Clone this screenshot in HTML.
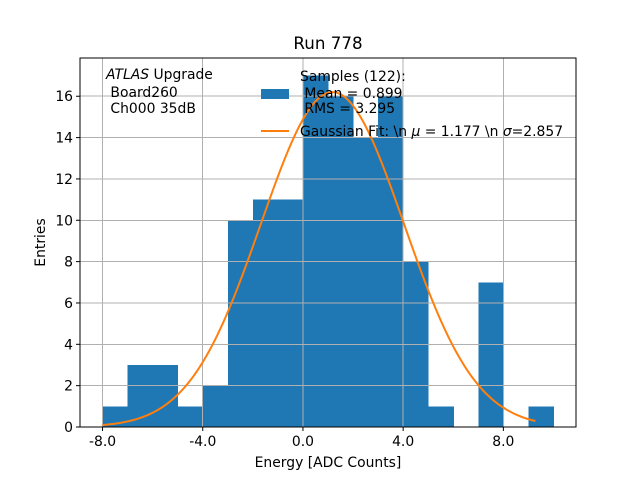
<!DOCTYPE html>
<html><head><meta charset="utf-8"><style>body{margin:0;background:#fff}svg{display:block;font-family:"DejaVu Sans","Liberation Sans",sans-serif}</style></head>
<body>
<svg id="chart" width="640" height="480" viewBox="0 0 640 480">
<rect width="640" height="480" fill="#fff"/>
<g id="bars" shape-rendering="crispEdges"></g><g id="grid" shape-rendering="crispEdges"></g><g id="fit"></g><g id="axes"></g>
<text x="328" y="49" text-anchor="middle" font-size="16.7">Run 778</text>
<text x="328" y="467" text-anchor="middle" font-size="13.9">Energy [ADC Counts]</text>
<text transform="translate(45,242.5) rotate(-90)" text-anchor="middle" font-size="13.9">Entries</text>
<g font-size="13.9">
<text x="106" y="79"><tspan font-style="italic">ATLAS</tspan> Upgrade</text>
<text x="106" y="97" xml:space="preserve"> Board260</text>
<text x="106" y="113" xml:space="preserve"> Ch000 35dB</text>
</g>
<g font-size="13.9">
<rect x="261" y="89" width="28" height="10" fill="#1f77b4"/>
<text x="300" y="81">Samples (122):</text>
<text x="300" y="98" xml:space="preserve"> Mean = 0.899</text>
<text x="300" y="113" xml:space="preserve"> RMS = 3.295</text>
<line x1="261" y1="131" x2="289" y2="131" stroke="#ff7f0e" stroke-width="2"/>
<text x="300" y="136">Gaussian Fit: \n <tspan font-style="italic">μ</tspan> = 1.177 \n <tspan font-style="italic">σ</tspan>=2.857</text>
</g>
</svg>
<script>
const binEdges = [-8,-7,-6,-5,-4,-3,-2,-1,0,1,2,3,4,5,6,7,8,9,10];
const counts = [1,3,3,1,2,10,11,11,17,16,14,16,8,1,0,7,0,1];
const fitMu = 1.177, fitSigma = 2.857, fitAmp = 16.2, fitStart = -8, fitEnd = 9.28;
const xTicks = [-8,-4,0,4,8];
const xTickLabels = ["-8.0","-4.0","0.0","4.0","8.0"];
const yTicks = [0,2,4,6,8,10,12,14,16];
const L=80,R=576,T=58,B=427, xmin=-8.9, xmax=10.9, ymin=0, ymax=17.85;
const sx=v=>L+(v-xmin)/(xmax-xmin)*(R-L);
const sy=v=>B-(v-ymin)/(ymax-ymin)*(B-T);
const NS="http://www.w3.org/2000/svg";
function mk(tag,attrs,parent){const e=document.createElementNS(NS,tag);for(const k in attrs)e.setAttribute(k,attrs[k]);parent.appendChild(e);return e;}
const grid=document.getElementById('grid'),bars=document.getElementById('bars'),fit=document.getElementById('fit'),axes=document.getElementById('axes');
xTicks.forEach((v,i)=>{
 const g=mk('line',{x1:sx(v),x2:sx(v),y1:T,y2:B,stroke:'#b0b0b0','stroke-width':1},grid);
 
 
 mk('line',{x1:sx(v),x2:sx(v),y1:B,y2:B+4,stroke:'#000'},axes);
 const t=mk('text',{x:sx(v),y:446,'text-anchor':'middle','font-size':13.9},axes);
 t.textContent=xTickLabels[i];
 
 
});
yTicks.forEach(v=>{
 const g=mk('line',{x1:L,x2:R,y1:sy(v),y2:sy(v),stroke:'#b0b0b0','stroke-width':1},grid);
 
 
 mk('line',{x1:L-4,x2:L,y1:sy(v),y2:sy(v),stroke:'#000'},axes);
 const t=mk('text',{x:L-7,y:sy(v)+5,'text-anchor':'end','font-size':13.9},axes);
 t.textContent=String(v);
 
 
});
counts.forEach((c,i)=>{
 if(c<=0)return;
 const x0=sx(binEdges[i]),x1=sx(binEdges[i+1]);
 const r=mk('rect',{x:x0,y:sy(c),width:x1-x0+0.5,height:sy(0)-sy(c),fill:'#1f77b4'},bars);
 
 
});
let d='';
for(let i=0;i<=200;i++){const x=fitStart+(fitEnd-fitStart)*i/200;const y=fitAmp*Math.exp(-Math.pow(x-fitMu,2)/(2*fitSigma*fitSigma));d+=(i?'L':'M')+sx(x).toFixed(2)+','+sy(y).toFixed(2);}
const p=mk('path',{d:d,fill:'none',stroke:'#ff7f0e','stroke-width':2},fit);


const f=mk('rect',{x:L,y:T,width:R-L,height:B-T,fill:'none',stroke:'#000','stroke-width':1},axes);


</script>
</body></html>
